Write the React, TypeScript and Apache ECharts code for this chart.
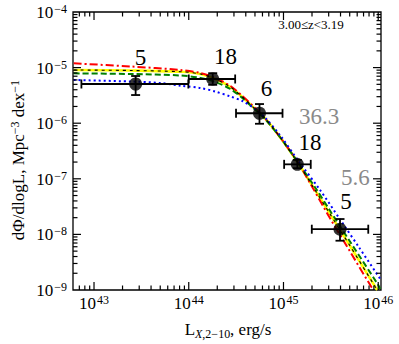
import React, { useEffect, useRef } from 'react';
import * as echarts from 'echarts';

// ---- data (luminosity in erg/s, space density in Mpc^-3 dex^-1) ----
const pointL = [2.75e43, 1.79e44, 5.58e44, 1.4e45, 3.95e45];
const pointPhi = [5.07e-6, 6.24e-6, 1.51e-6, 1.82e-7, 1.24e-8];
const pointLLow = [7.36e42, 1.0e44, 3.155e44, 1.016e45, 1.99e45];
const pointLHigh = [9.9e43, 3.09e44, 9.77e44, 1.94e45, 7.85e45];
const pointPhiLow = [3.21e-6, 4.9e-6, 9.77e-7, 1.55e-7, 7.7e-9];
const pointPhiHigh = [7.06e-6, 7.94e-6, 2.21e-6, 2.19e-7, 1.89e-8];

const countText = ['5', '18', '6', '36.3', '18', '5.6', '5'];
const countGray = [0, 0, 0, 1, 0, 1, 0];
const countL = [3.09e43, 2.45e44, 6.6e44, 2.38e45, 1.91e45, 5.75e45, 4.57e45];
const countPhi = [1.49e-5, 1.58e-5, 4.2e-6, 1.32e-6, 4.5e-7, 1.05e-7, 3.9e-8];

// model curves as [log10 L, log10 phi]
const curveRed = [
  [42.786, -4.923], [43.386, -4.98], [43.913, -5.043], [44.124, -5.097], [44.28, -5.187],
  [44.44, -5.331], [44.566, -5.511], [44.7, -5.727], [44.81, -5.924], [44.97, -6.266],
  [45.15, -6.698], [45.31, -7.166], [45.49, -7.705], [45.7, -8.3], [45.93, -8.95], [45.955, -9.0],
];
const curveYellow = [
  [42.786, -5.043], [43.386, -5.052], [43.913, -5.074], [44.124, -5.115], [44.28, -5.205],
  [44.44, -5.349], [44.566, -5.529], [44.7, -5.745], [44.81, -5.924], [44.97, -6.266],
  [45.15, -6.707], [45.333, -7.201], [45.49, -7.63], [45.7, -8.2], [45.97, -8.947], [45.99, -9.0],
];
const curveGreen = [
  [42.786, -5.103], [43.386, -5.115], [43.913, -5.142], [44.124, -5.187], [44.28, -5.259],
  [44.44, -5.385], [44.566, -5.547], [44.7, -5.754], [44.81, -5.933], [44.97, -6.266],
  [45.15, -6.698], [45.352, -7.201], [45.49, -7.57], [45.7, -8.124], [46.0, -8.91], [46.02, -8.98],
];
const curveBlue = [
  [42.786, -5.223], [43.386, -5.25], [43.7, -5.277], [43.913, -5.326], [44.124, -5.367],
  [44.28, -5.43], [44.44, -5.52], [44.566, -5.601], [44.7, -5.745], [44.81, -5.906],
  [44.97, -6.23], [45.15, -6.662], [45.386, -7.201], [45.597, -7.73], [45.807, -8.257], [46.025, -8.81],
];

const X_MIN = 6e42;
const X_MAX = 1.07e46;
const Y_MIN = 1e-9;
const Y_MAX = 1e-4;
const FONT = "'Liberation Serif', serif";

const toPts = (c: number[][]) => c.map(([a, b]) => [Math.pow(10, a), Math.pow(10, b)]);

export default function App() {
  const ref = useRef<HTMLDivElement>(null);
  useEffect(() => {
    const chart = echarts.init(ref.current!, null, { renderer: 'svg' });

    // tick list: [x, y, kind(0=x,1=y), major]
    const ticks: number[][] = [];
    for (let d = 42; d <= 46; d++) {
      for (let m = 1; m <= 9; m++) {
        const v = m * Math.pow(10, d);
        if (v >= X_MIN * 1.0001 && v <= X_MAX / 1.0001) ticks.push([v, Y_MIN, 0, m === 1 ? 1 : 0]);
      }
    }
    for (let d = -9; d <= -4; d++) {
      for (let m = 1; m <= 9; m++) {
        const v = m * Math.pow(10, d);
        if (v > Y_MIN * 1.0001 && v < Y_MAX / 1.0001) ticks.push([X_MIN, v, 1, m === 1 ? 1 : 0]);
      }
    }

    const tickStyle = { stroke: '#000', lineWidth: 1.2 };

    const fmt = (v: number) => {
      const l = Math.log10(v);
      const e = Math.round(l);
      if (Math.abs(l - e) > 1e-6) return '';
      const s = e < 0 ? '\u2212' + -e : String(e);
      return '{b|10}{s|' + s + '}';
    };
    const labelRich = {
      b: { fontSize: 17, fontFamily: FONT, color: '#000', verticalAlign: 'bottom', lineHeight: 18 },
      s: { fontSize: 12, fontFamily: FONT, color: '#000', verticalAlign: 'top', lineHeight: 18, padding: [0, 0, 0, 1] },
    };

    const lineSeries = (name: string, data: number[][], color: string, width: number, type: any, z: number) => ({
      name,
      type: 'line',
      data: toPts(data),
      showSymbol: false,
      smooth: 0.3,
      z,
      lineStyle: { color, width, type },
    });

    chart.setOption({
      animation: false,
      textStyle: { fontFamily: FONT },
      grid: { left: 73, right: 18, top: 12, bottom: 54, show: true, borderColor: '#000', borderWidth: 1.3, backgroundColor: 'transparent' },
      xAxis: {
        type: 'log', logBase: 10, min: X_MIN, max: X_MAX,
        axisLine: { show: false }, axisTick: { show: false }, splitLine: { show: false },
        axisLabel: { formatter: fmt, rich: labelRich, margin: 4, showMinLabel: false, showMaxLabel: true, hideOverlap: false },
      },
      yAxis: {
        type: 'log', logBase: 10, min: Y_MIN, max: Y_MAX,
        axisLine: { show: false }, axisTick: { show: false }, splitLine: { show: false },
        axisLabel: { formatter: fmt, rich: labelRich, margin: 6 },
      },
      series: [
        lineSeries('yellow', curveYellow, '#ffff00', 2.6, 'solid', 2),
        lineSeries('red', curveRed, '#ff0000', 2, [8, 3, 2, 3], 3),
        lineSeries('green', curveGreen, '#008000', 2, [6, 3], 3),
        lineSeries('blue', curveBlue, '#0000ff', 2, [2, 3], 3),
        lineSeries('black', curveYellow, '#000000', 1.1, [3, 4], 4),
        {
          type: 'custom',
          z: 5,
          clip: false,
          data: pointL.map((x, i) => [x, pointPhi[i], pointLLow[i], pointLHigh[i], pointPhiLow[i], pointPhiHigh[i]]),
          encode: { x: 0, y: 1 },
          renderItem: (params: any, api: any) => {
            const x = api.value(0), y = api.value(1);
            const pl = api.coord([api.value(2), y]);
            const ph = api.coord([api.value(3), y]);
            const pb = api.coord([x, api.value(4)]);
            const pt = api.coord([x, api.value(5)]);
            const cap = 4.5;
            const st = { stroke: '#000', lineWidth: 1.8 };
            return {
              type: 'group',
              children: [
                { type: 'line', shape: { x1: pl[0], y1: pl[1], x2: ph[0], y2: ph[1] }, style: st },
                { type: 'line', shape: { x1: pl[0], y1: pl[1] - cap, x2: pl[0], y2: pl[1] + cap }, style: st },
                { type: 'line', shape: { x1: ph[0], y1: ph[1] - cap, x2: ph[0], y2: ph[1] + cap }, style: st },
                { type: 'line', shape: { x1: pb[0], y1: pb[1], x2: pt[0], y2: pt[1] }, style: st },
                { type: 'line', shape: { x1: pb[0] - cap, y1: pb[1], x2: pb[0] + cap, y2: pb[1] }, style: st },
                { type: 'line', shape: { x1: pt[0] - cap, y1: pt[1], x2: pt[0] + cap, y2: pt[1] }, style: st },
              ],
            };
          },
        },
        {
          type: 'scatter',
          z: 6,
          symbolSize: 13,
          itemStyle: { color: '#000' },
          data: pointL.map((x, i) => [x, pointPhi[i]]),
        },
        {
          type: 'custom',
          z: 7,
          clip: false,
          data: countL.map((x, i) => [x, countPhi[i], i]),
          encode: { x: 0, y: 1 },
          renderItem: (params: any, api: any) => {
            const i = api.value(2);
            const p = api.coord([api.value(0), api.value(1)]);
            return {
              type: 'text',
              x: p[0],
              y: p[1],
              style: {
                text: countText[i],
                fontFamily: FONT,
                fontSize: 23,
                fill: countGray[i] ? '#8a8a8a' : '#000',
                align: 'center',
                verticalAlign: 'middle',
              },
            };
          },
        },
        {
          type: 'custom',
          z: 8,
          clip: false,
          data: ticks,
          encode: { x: 0, y: 1 },
          renderItem: (params: any, api: any) => {
            const kind = api.value(2);
            const len = api.value(3) ? 8 : 4.5;
            if (kind === 0) {
              const b = api.coord([api.value(0), Y_MIN]);
              const t = api.coord([api.value(0), Y_MAX]);
              return {
                type: 'group',
                children: [
                  { type: 'line', shape: { x1: b[0], y1: b[1], x2: b[0], y2: b[1] - len }, style: tickStyle },
                  { type: 'line', shape: { x1: t[0], y1: t[1], x2: t[0], y2: t[1] + len }, style: tickStyle },
                ],
              };
            }
            const l = api.coord([X_MIN, api.value(1)]);
            const r = api.coord([X_MAX, api.value(1)]);
            return {
              type: 'group',
              children: [
                { type: 'line', shape: { x1: l[0], y1: l[1], x2: l[0] + len, y2: l[1] }, style: tickStyle },
                { type: 'line', shape: { x1: r[0], y1: r[1], x2: r[0] - len, y2: r[1] }, style: tickStyle },
              ],
            };
          },
        },
      ],
      graphic: [
        {
          type: 'text',
          x: 18,
          y: 160,
          rotation: Math.PI / 2,
          style: {
            text: 'd\u03A6/dlogL, Mpc{s|\u22123} dex{s|\u22121}',
            fontSize: 17,
            fontFamily: FONT,
            fill: '#000',
            align: 'center',
            verticalAlign: 'middle',
            rich: {
              s: { fontSize: 12, fontFamily: FONT, verticalAlign: 'top', lineHeight: 18 },
            },
          },
        },
        {
          type: 'text',
          x: 228,
          y: 329,
          style: {
            text: 'L{i|X}{u|,2\u221210}, erg/s',
            fontSize: 17,
            fontFamily: FONT,
            fill: '#000',
            align: 'center',
            verticalAlign: 'middle',
            rich: {
              i: { fontSize: 12, fontFamily: FONT, fontStyle: 'italic', verticalAlign: 'bottom', lineHeight: 22 },
              u: { fontSize: 12, fontFamily: FONT, verticalAlign: 'bottom', lineHeight: 22 },
            },
          },
        },
        {
          type: 'text',
          x: 311,
          y: 24,
          style: {
            text: '3.00\u2264z<3.19',
            fontSize: 13,
            fontFamily: FONT,
            fill: '#000',
            align: 'center',
            verticalAlign: 'middle',
          },
        },
      ],
    });
    return () => chart.dispose();
  }, []);
  return <div ref={ref} style={{ position: 'absolute', left: 0, top: 0, width: 399, height: 344 }} />;
}
